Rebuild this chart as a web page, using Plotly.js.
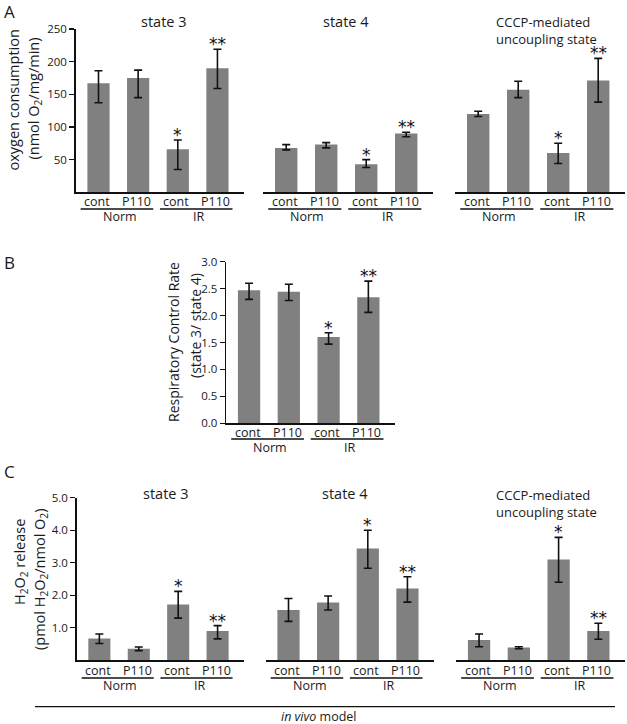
<!DOCTYPE html>
<html>
<head>
<meta charset="utf-8">
<script src="https://cdn.plot.ly/plotly-3.0.1.min.js"></script>
<style>html,body{margin:0;padding:0;background:#fff;}#chart{width:627px;height:724px;}</style>
</head>
<body>
<div id="chart"></div>
<script>
// ---- data ----
const tickLabels = ['cont', 'P110', 'cont', 'P110'];
const groupLabels = ['Norm', 'IR'];
const signif = ['', '', '*', '**'];

const aState3 = [167, 175, 66, 190];
const aState3Plus = [19, 12, 14, 29];
const aState3Minus = [30, 30, 31, 31];

const aState4 = [68, 73, 43, 90];
const aState4Plus = [5, 3, 7, 2];
const aState4Minus = [3, 5, 5, 5];

const aCCCP = [120, 157, 60, 171];
const aCCCPPlus = [4, 13, 15, 34];
const aCCCPMinus = [4, 12, 16, 33];

const bRCR = [2.47, 2.44, 1.60, 2.34];
const bRCRPlus = [0.13, 0.14, 0.08, 0.30];
const bRCRMinus = [0.17, 0.16, 0.13, 0.28];

const cState3 = [0.67, 0.36, 1.72, 0.90];
const cState3Plus = [0.14, 0.05, 0.40, 0.17];
const cState3Minus = [0.15, 0.06, 0.42, 0.24];

const cState4 = [1.55, 1.78, 3.44, 2.21];
const cState4Plus = [0.35, 0.20, 0.56, 0.36];
const cState4Minus = [0.35, 0.23, 0.61, 0.42];

const cCCCP = [0.63, 0.40, 3.10, 0.90];
const cCCCPPlus = [0.18, 0.02, 0.68, 0.24];
const cCCCPMinus = [0.21, 0.04, 0.70, 0.25];

const aTicks = [50, 100, 150, 200, 250];
const bTicks = [0, 0.5, 1.0, 1.5, 2.0, 2.5, 3.0];
const cTicks = [1, 2, 3, 4, 5];

// ---- layout helpers ----
const W = 627, H = 724;
const fx = p => p / W;
const fy = p => 1 - p / H;
const FONT = '"Open Sans", Lato, sans-serif';
const STARFONT = '"DejaVu Sans", sans-serif';
const TXT = '#1a1a1a';
const BAR = '#808080';
const xIdx = [0, 1, 2, 3];
const XR = [-0.58, 3.67];

const panels = [
  {v: aState3, p: aState3Plus, m: aState3Minus, xd: [75.5, 244], yd: [192.3, 29], yr: [0, 250], yaxisShow: true, ticks: aTicks, fmt: 'd', row: 'A'},
  {v: aState4, p: aState4Plus, m: aState4Minus, xd: [263, 433], yd: [192.3, 29], yr: [0, 250], yaxisShow: false, row: 'A'},
  {v: aCCCP, p: aCCCPPlus, m: aCCCPMinus, xd: [455, 625], yd: [192.3, 29], yr: [0, 250], yaxisShow: false, row: 'A'},
  {v: bRCR, p: bRCRPlus, m: bRCRMinus, xd: [226, 395], yd: [423.3, 261.7], yr: [0, 3.0], yaxisShow: true, ticks: bTicks, fmt: '.1f', row: 'B'},
  {v: cState3, p: cState3Plus, m: cState3Minus, xd: [76.5, 244], yd: [660.4, 497.7], yr: [0, 5.0], yaxisShow: true, ticks: cTicks, fmt: '.1f', row: 'C'},
  {v: cState4, p: cState4Plus, m: cState4Minus, xd: [265.5, 434], yd: [660.4, 497.7], yr: [0, 5.0], yaxisShow: false, row: 'C'},
  {v: cCCCP, p: cCCCPPlus, m: cCCCPMinus, xd: [456, 625], yd: [660.4, 497.7], yr: [0, 5.0], yaxisShow: false, row: 'C'}
];
const rowY = {A: {tick: 201, line: 209, grp: 216.5}, B: {tick: 432, line: 439, grp: 447}, C: {tick: 670.7, line: 678, grp: 685.5}};

const traces = [];
const layout = {
  width: W, height: H,
  margin: {l: 0, r: 0, t: 0, b: 0},
  paper_bgcolor: '#fff', plot_bgcolor: 'rgba(0,0,0,0)',
  showlegend: false,
  font: {family: FONT, color: TXT, size: 13},
  annotations: [], shapes: []
};
const addText = (o) => layout.annotations.push(Object.assign({showarrow: false, xanchor: 'center', yanchor: 'middle'}, o));

panels.forEach((pn, i) => {
  const n = i + 1;
  const xa = 'x' + (n === 1 ? '' : n), ya = 'y' + (n === 1 ? '' : n);
  traces.push({
    type: 'bar', x: xIdx, y: pn.v, xaxis: xa, yaxis: ya,
    width: 0.56, marker: {color: BAR, line: {width: 0}},
    error_y: {type: 'data', symmetric: false, array: pn.p, arrayminus: pn.m,
              color: '#111', thickness: 1.6, width: 4},
    hoverinfo: 'none'
  });
  layout['xaxis' + (n === 1 ? '' : n)] = {
    domain: [fx(pn.xd[0]), fx(pn.xd[1])], anchor: ya, range: XR,
    showline: true, linecolor: '#111', linewidth: 1.3,
    tickmode: 'array', tickvals: xIdx, ticktext: tickLabels, showticklabels: false,
    ticks: '', showgrid: false, zeroline: false, fixedrange: true
  };
  const yax = {
    domain: [fy(pn.yd[0]), fy(pn.yd[1])], anchor: xa, range: pn.yr,
    showgrid: false, zeroline: false, fixedrange: true
  };
  if (pn.yaxisShow) {
    Object.assign(yax, {
      showline: true, linecolor: '#111', linewidth: 1.3,
      ticks: 'outside', ticklen: 5, tickwidth: 1.2, tickcolor: '#111',
      tickmode: 'array', tickvals: pn.ticks, tickformat: pn.fmt,
      tickfont: {family: FONT, size: 11.5, color: TXT}
    });
  } else {
    Object.assign(yax, {visible: false});
  }
  layout['yaxis' + (n === 1 ? '' : n)] = yax;

  const ry = rowY[pn.row];
  // category labels under the axis
  xIdx.forEach((xv, k) => addText({
    xref: xa, yref: 'paper', x: xv, y: fy(ry.tick), xshift: -1.5, text: tickLabels[k],
    font: {family: FONT, size: 12.5, color: TXT}
  }));
  // significance stars
  pn.v.forEach((val, k) => {
    if (!signif[k]) return;
    addText({
      xref: xa, yref: ya, x: xIdx[k], y: val + pn.p[k], yanchor: 'bottom',
      text: signif[k], yshift: -7, font: {family: STARFONT, size: 17, color: '#111'}
    });
  });
  // group underlines and labels
  [[0, 1], [2, 3]].forEach((g, gi) => {
    layout.shapes.push({
      type: 'line', xref: xa, yref: 'paper',
      x0: xIdx[g[0]] - 0.45, x1: xIdx[g[1]] + 0.38, y0: fy(ry.line), y1: fy(ry.line),
      line: {color: '#111', width: 1.3}
    });
    addText({
      xref: xa, yref: 'paper', x: (xIdx[g[0]] + xIdx[g[1]]) / 2 + 0.03, y: fy(ry.grp),
      text: groupLabels[gi], font: {family: FONT, size: 12.5, color: TXT}
    });
  });
});

// subplot titles
const titles = [
  {t: 'state 3', x: 164, y: 22, xa: 'center', s: 14.5},
  {t: 'state 4', x: 345.5, y: 22, xa: 'center', s: 14.5},
  {t: 'CCCP-mediated<br>uncoupling state', x: 494, y: 30.5, xa: 'left', s: 13},
  {t: 'state 3', x: 166, y: 493, xa: 'center', s: 14.5},
  {t: 'state 4', x: 345, y: 493, xa: 'center', s: 14.5},
  {t: 'CCCP-mediated<br>uncoupling state', x: 494, y: 503.5, xa: 'left', s: 13}
];
titles.forEach(o => addText({
  xref: 'paper', yref: 'paper', x: fx(o.x), y: fy(o.y), xanchor: o.xa, align: 'left',
  text: o.t, font: {family: FONT, size: o.s, color: TXT}
}));

// panel letters
[['A', 9, 12], ['B', 9, 262], ['C', 9, 471]].forEach(l => addText({
  xref: 'paper', yref: 'paper', x: fx(l[1]), y: fy(l[2]), text: l[0],
  font: {family: FONT, size: 17, color: TXT}
}));

// y-axis titles (one annotation per line)
const yTitles = [
  {t: 'oxygen consumption', x: 13.5, y: 100, s: 14.5},
  {t: '(nmol O<sub>2</sub>/mg/min)', x: 33.5, y: 99, s: 14.5},
  {t: 'Respiratory Control Rate', x: 174, y: 342, s: 14},
  {t: '(state 3/ state 4)', x: 195, y: 326, s: 14},
  {t: 'H<sub>2</sub>O<sub>2</sub> release', x: 20, y: 562, s: 14.5},
  {t: '(pmol H<sub>2</sub>O<sub>2</sub>/nmol O<sub>2</sub>)', x: 40, y: 580, s: 14.5}
];
yTitles.forEach(o => addText({
  xref: 'paper', yref: 'paper', x: fx(o.x), y: fy(o.y), textangle: -90, text: o.t,
  font: {family: FONT, size: o.s, color: TXT}
}));

// bottom model line and label
layout.shapes.push({type: 'line', xref: 'paper', yref: 'paper', x0: fx(35), x1: fx(615),
  y0: fy(706.7), y1: fy(706.7), line: {color: '#111', width: 1.3}});
addText({xref: 'paper', yref: 'paper', x: fx(318), y: fy(716), text: '<i>in vivo</i> model',
  font: {family: FONT, size: 12.5, color: TXT}});

Plotly.newPlot('chart', traces, layout, {staticPlot: true, displayModeBar: false});
</script>
</body>
</html>
